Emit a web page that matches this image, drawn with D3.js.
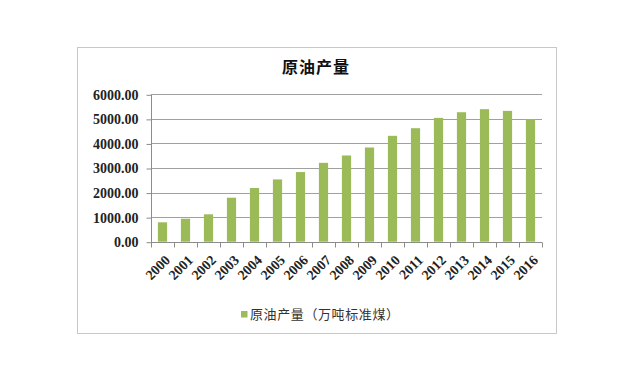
<!DOCTYPE html>
<html><head><meta charset="utf-8">
<script src="https://cdn.jsdelivr.net/npm/d3@7/dist/d3.min.js"></script>
<style>body{margin:0;background:#fff}svg{display:block}</style>
</head><body>
<script>
const years = ["2000","2001","2002","2003","2004","2005","2006","2007","2008","2009","2010","2011","2012","2013","2014","2015","2016"];
const production = [790,935,1115,1790,2185,2535,2835,3210,3510,3835,4310,4620,5040,5270,5395,5325,4990];
const yTicks = [0,1000,2000,3000,4000,5000,6000];
const title = "原油产量";
const legendLabel = "原油产量（万吨标准煤）";

const W = 638, H = 379;
const svg = d3.select("body").append("svg").attr("width", W).attr("height", H);
svg.append("rect").attr("width", W).attr("height", H).attr("fill", "#fff");
svg.append("rect").attr("x", 77.5).attr("y", 47.5).attr("width", 479).attr("height", 286)
  .attr("fill", "#fff").attr("stroke", "#c8c8c8").attr("stroke-width", 1);

const m = {l:151, r:542, t:94.3, b:241.7};
const xb = d3.scaleBand().domain(years).range([m.l, m.r]);
const y = d3.scaleLinear().domain([0, 6000]).range([m.b, m.t]);
const labelFont = "'Liberation Serif', 'DejaVu Serif', serif";

// gridlines
svg.append("g").selectAll("line").data(yTicks.slice(1)).join("line")
  .attr("x1", m.l).attr("x2", m.r).attr("y1", d => Math.round(y(d))+0.5).attr("y2", d => Math.round(y(d))+0.5)
  .attr("stroke", "#a0a0a0");

// bars
svg.append("g").selectAll("rect").data(years).join("rect")
  .attr("x", d => xb(d) + xb.bandwidth()/2 - 4.6)
  .attr("width", 9.2)
  .attr("y", (d,i) => y(production[i]))
  .attr("height", (d,i) => m.b - y(production[i]))
  .attr("fill", "#9bbb59");

// y axis
const ya = d3.axisLeft(y).tickValues(yTicks).tickFormat(d3.format(".2f")).tickSize(5).tickPadding(8);
const gy = svg.append("g").attr("transform", `translate(${m.l+0.5},0.5)`).call(ya);
gy.select(".domain").attr("stroke", "#8c8c8c").attr("d", `M0,${m.t}V${m.b}`);
gy.selectAll(".tick line").attr("stroke", "#8c8c8c");
gy.selectAll("text").attr("fill", "#222").style("font-family", labelFont)
  .style("font-size", "14px").style("font-weight", "bold");

// x axis
const gx = svg.append("g").attr("transform", `translate(0,${Math.round(m.b)+0.5})`);
gx.append("line").attr("x1", m.l).attr("x2", m.r).attr("stroke", "#8c8c8c");
gx.selectAll("line.t").data(years.concat(["end"])).join("line").attr("class","t")
  .attr("x1", (d,i) => Math.round(m.l + i*xb.bandwidth())+0.5)
  .attr("x2", (d,i) => Math.round(m.l + i*xb.bandwidth())+0.5)
  .attr("y1", 0).attr("y2", 5).attr("stroke", "#8c8c8c");
gx.selectAll("text").data(years).join("text")
  .attr("transform", d => `translate(${xb(d)+xb.bandwidth()/2+5},${15}) rotate(-45)`)
  .attr("text-anchor", "end").attr("dy", "0.35em")
  .attr("fill", "#222").style("font-family", labelFont)
  .style("font-size", "14px").style("font-weight", "bold")
  .text(d => d);

// title
svg.append("text").attr("x", 316).attr("y", 73).attr("text-anchor", "middle")
  .style("font-family", "'Noto Sans CJK SC', sans-serif").style("font-size", "16px").style("font-weight", "bold")
  .style("letter-spacing", "1px")
  .attr("fill", "#111").text(title);

// legend
svg.append("rect").attr("x", 241).attr("y", 311).attr("width", 6.5).attr("height", 6.5).attr("fill", "#9bbb59");
svg.append("text").attr("x", 250).attr("y", 319)
  .style("font-family", "'Noto Sans CJK SC', sans-serif").style("font-size", "13px")
  .style("letter-spacing", "0.6px")
  .attr("fill", "#333").text(legendLabel);
</script>
</body></html>
